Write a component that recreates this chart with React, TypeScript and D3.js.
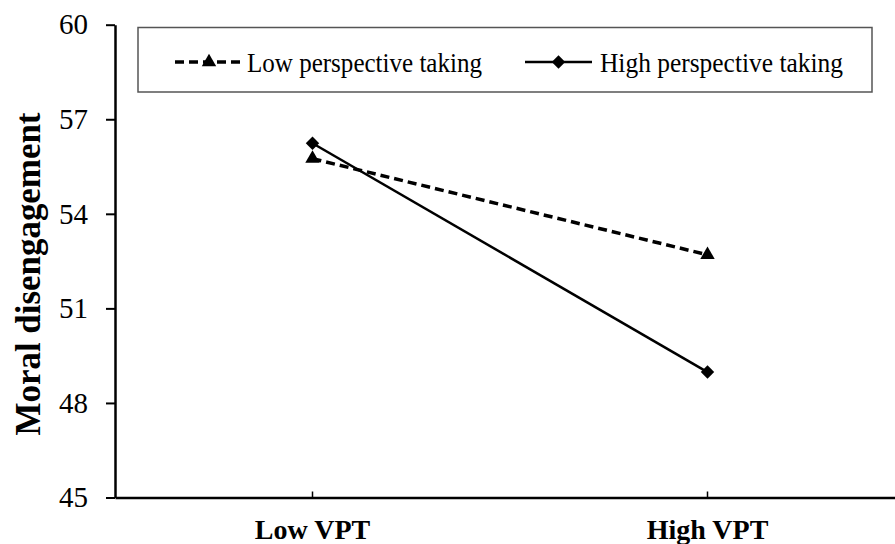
import React, { useEffect, useRef } from "react";
import * as d3 from "d3";

const categories = ["Low VPT", "High VPT"];
const lowPT = [55.75, 52.7];
const highPT = [56.24, 48.98];
const yTicks = [45, 48, 51, 54, 57, 60];
const seriesNames = ["Low perspective taking", "High perspective taking"];

const W = 895;
const H = 544;
const FONT = "Liberation Serif, Times New Roman, Times, serif";

const App = () => {
  const svgRef = useRef<SVGSVGElement | null>(null);

  useEffect(() => {
    const svg = d3.select(svgRef.current);
    svg.selectAll("*").remove();

    const x = d3.scaleBand().domain(categories).range([115, 905]);
    const y = d3.scaleLinear().domain([45, 60]).range([497.5, 24.7]);
    const cx = (c: string) => (x(c) as number) + x.bandwidth() / 2;

    // y axis
    const ya = svg
      .append("g")
      .attr("transform", "translate(115,0)")
      .call(d3.axisLeft(y).tickValues(yTicks).tickSize(9).tickPadding(18).tickSizeOuter(0));
    ya.attr("font-family", null);
    ya.select(".domain").attr("stroke", "#000").attr("stroke-width", 2.5);
    ya.selectAll(".tick line").attr("stroke", "#000").attr("stroke-width", 2);
    ya.selectAll(".tick text")
      .style("font-family", FONT)
      .style("font-size", "29px")
      .attr("fill", "#000");

    // x axis
    const xa = svg
      .append("g")
      .attr("transform", "translate(0,497.5)")
      .call(d3.axisBottom(x).tickSizeInner(-6).tickSizeOuter(0).tickPadding(22));
    xa.attr("font-family", null);
    xa.select(".domain").attr("stroke", "#000").attr("stroke-width", 2.5);
    xa.selectAll(".tick line").attr("stroke", "#000").attr("stroke-width", 1.5);
    xa.selectAll(".tick text")
      .style("font-family", FONT)
      .style("font-size", "28px")
      .style("font-weight", "bold")
      .attr("fill", "#000")
      .attr("dy", "0.71em")
      .attr("y", 22);

    // y label
    svg
      .append("text")
      .attr("transform", "translate(40,274) rotate(-90)")
      .attr("text-anchor", "middle")
      .style("font-family", FONT)
      .style("font-size", "35px")
      .style("font-weight", "bold")
      .attr("textLength", 323)
      .attr("lengthAdjust", "spacingAndGlyphs")
      .text("Moral disengagement");

    const line = d3
      .line<number>()
      .x((d, i) => cx(categories[i]))
      .y((d) => y(d));

    const tri = d3.symbol().type(d3.symbolTriangle).size(90);
    const dia = d3.symbol().type(d3.symbolSquare).size(90);

    // low perspective taking (dashed, triangles)
    svg
      .append("path")
      .datum(lowPT)
      .attr("d", line)
      .attr("fill", "none")
      .attr("stroke", "#000")
      .attr("stroke-width", 3.5)
      .attr("stroke-dasharray", "9,5");
    svg
      .selectAll(".tri")
      .data(lowPT)
      .join("path")
      .attr("class", "tri")
      .attr("d", tri)
      .attr("transform", (d, i) => `translate(${cx(categories[i])},${y(d)})`)
      .attr("fill", "#000");

    // high perspective taking (solid, diamonds)
    svg
      .append("path")
      .datum(highPT)
      .attr("d", line)
      .attr("fill", "none")
      .attr("stroke", "#000")
      .attr("stroke-width", 2.5);
    svg
      .selectAll(".dia")
      .data(highPT)
      .join("path")
      .attr("class", "dia")
      .attr("d", dia)
      .attr("transform", (d, i) => `translate(${cx(categories[i])},${y(d)}) rotate(45)`)
      .attr("fill", "#000");

    // legend
    const lg = svg.append("g");
    lg.append("rect")
      .attr("x", 138)
      .attr("y", 27.5)
      .attr("width", 734)
      .attr("height", 64.5)
      .attr("fill", "#fff")
      .attr("stroke", "#555")
      .attr("stroke-width", 1.5);

    const items = [
      { x0: 175, x1: 243, dash: "9,5", sw: 3.5, sym: tri, rot: 0, tx: 247, tl: 235 },
      { x0: 525, x1: 592, dash: null, sw: 2.5, sym: dia, rot: 45, tx: 600, tl: 243 },
    ];
    items.forEach((it, i) => {
      lg.append("line")
        .attr("x1", it.x0)
        .attr("x2", it.x1)
        .attr("y1", 62)
        .attr("y2", 62)
        .attr("stroke", "#000")
        .attr("stroke-width", it.sw)
        .attr("stroke-dasharray", it.dash);
      lg.append("path")
        .attr("d", it.sym)
        .attr("transform", `translate(${(it.x0 + it.x1) / 2},62) rotate(${it.rot})`)
        .attr("fill", "#000");
      lg.append("text")
        .attr("x", it.tx)
        .attr("y", 72)
        .style("font-family", FONT)
        .style("font-size", "28px")
        .attr("textLength", it.tl)
        .attr("lengthAdjust", "spacingAndGlyphs")
        .text(seriesNames[i]);
    });
  }, []);

  return (
    <div style={{ position: "fixed", left: 0, top: 0, background: "#fff" }}>
      <svg ref={svgRef} width={W} height={H} style={{ display: "block" }}></svg>
    </div>
  );
};

export default App;
